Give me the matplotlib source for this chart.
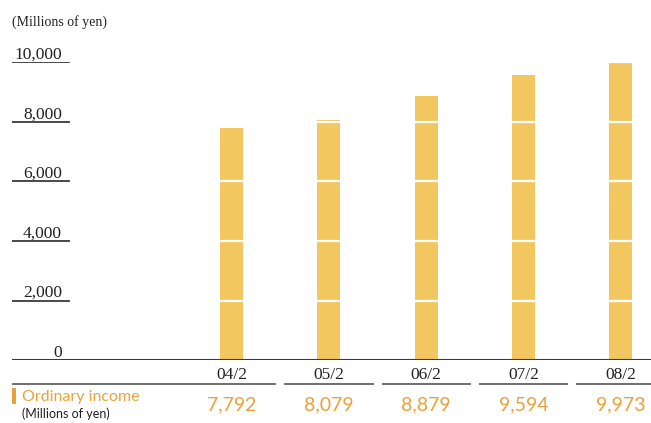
import matplotlib
matplotlib.use("Agg")
import matplotlib.pyplot as plt

# data
periods = ["04/2", "05/2", "06/2", "07/2", "08/2"]
income = [7792, 8079, 8879, 9594, 9973]
yticks = [0, 2000, 4000, 6000, 8000, 10000]
value_labels = ["7,792", "8,079", "8,879", "9,594", "9,973"]

bar_color = "#F2C75F"
orange = "#E9A23B"
line_color = "#3a3a3a"
serif = "Liberation Serif"
sans = "Lato"

fig = plt.figure(figsize=(6.51, 4.23), dpi=100)
W, H = 651, 423
# axes: y=0 at px 360, y=10000 at px 62.5 ; x from px 12 to 651
left_px, right_px = 12, 651
ax = fig.add_axes([left_px / W, (H - 360) / H, (right_px - left_px) / W, 297.5 / H])
ax.set_ylim(0, 10000)
step = 97.35
c0 = 231.5
ax.set_xlim((left_px - c0) / step, (right_px - c0) / step)
ax.axis("off")

def ypx(py):
    # pixel row -> data value
    return (360 - py) * 10000 / 297.5

def xpx(px):
    return (px - c0) / step

xs = list(range(len(periods)))
ax.bar(xs, income, width=23 / step, color=bar_color, zorder=2)

# white gridlines across bars
for t in yticks[1:]:
    ax.axhline(t, color="white", lw=1.6, zorder=3)

# y tick labels with short underlines
for t in yticks:
    if t > 0:
        ax.axhline(t, xmin=0, xmax=57 / 639, color=line_color, lw=1.3, zorder=4)
    ax.text(xpx(62), t + ypx(356.5), f"{t:,}", ha="right", va="baseline",
            family=serif, fontsize=12.5, color="#222222", clip_on=False)

# baseline
ax.axhline(0, color=line_color, lw=1.5, zorder=4)

# top unit label
fig.text(12 / W, 1 - 22 / H, "(Millions of yen)", family=serif, fontsize=10,
         va="center", ha="left", color="#222222")

# category labels and underlines
gap = 8 / step
xl, xr = ax.get_xlim()
for i, p in enumerate(periods):
    ax.text(i, ypx(374.5), p, ha="center", va="center", family=serif,
            fontsize=12.5, color="#222222", clip_on=False)
    a = xl if i == 0 else i - 0.5 + gap / 2
    b = xr if i == len(periods) - 1 else i + 0.5 - gap / 2
    ax.plot([a, b], [ypx(384)] * 2, color="#555555", lw=1.2, clip_on=False,
            solid_capstyle="butt")

# value row
for i, v in enumerate(value_labels):
    ax.text(i, ypx(405), v, ha="center", va="center", family=sans,
            fontsize=14, color=orange, clip_on=False)

# legend-like label
ax.fill_between([xpx(12), xpx(16)], ypx(404), ypx(388), color=orange,
                lw=0, clip_on=False)
ax.text(xpx(22), ypx(397), "Ordinary income", ha="left", va="center",
        family=sans, fontsize=11.5, color=orange, clip_on=False)
ax.text(xpx(22), ypx(413.5), "(Millions of yen)", ha="left", va="center",
        family=sans, fontsize=9, color="#222222", clip_on=False)

fig.savefig("out.png", dpi=100)
